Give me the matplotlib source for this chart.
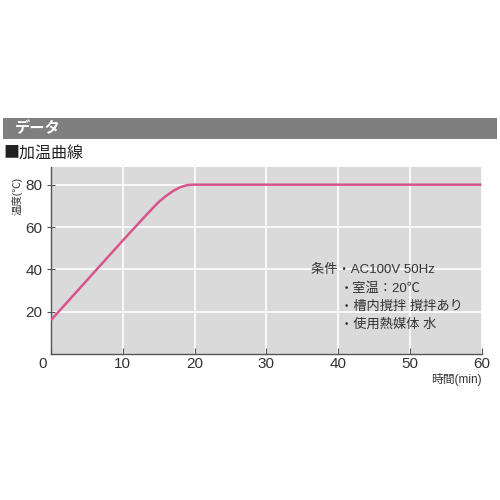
import matplotlib
matplotlib.use("Agg")
import matplotlib.pyplot as plt
import matplotlib.transforms as mtransforms
from matplotlib.patches import Rectangle

FAM = ['Liberation Sans', 'Noto Sans CJK JP', 'DejaVu Sans']
plt.rcParams['font.family'] = FAM

# data
time_min = [0, 10, 13.5, 15, 16, 17, 18, 19, 19.6, 60]
temp_c = [16, 53.6, 66.5, 71.8, 74.6, 77.0, 78.8, 79.8, 80, 80]
x_ticks = [0, 10, 20, 30, 40, 50, 60]
y_ticks = [20, 40, 60, 80]
header = "データ"
title = "■加温曲線"
ylabel = "温度(℃)"
xlabel = "時間(min)"
notes = ["条件・AC100V 50Hz", "・室温：20℃", "・槽内撹拌 撹拌あり", "・使用熱媒体 水"]

fig = plt.figure(figsize=(5, 5), dpi=100)
fig.patch.set_facecolor('white')

# header bar
fig.patches.append(Rectangle((3/500, 1-138.5/500), 494/500, 20/500,
                             transform=fig.transFigure, facecolor='#7f7f7f',
                             edgecolor='none', zorder=0))
fig.text(15/500, 1-128.5/500, header, color='white', fontsize=11, fontweight='bold',
         va='center', ha='left', style='italic', family=['Noto Sans CJK JP'])
fig.text(3/500, 1-153/500, title, color='#222222', fontsize=11.5, va='center', ha='left',
         family=['Noto Sans CJK JP'])

ax = fig.add_axes([51/500, 1-354/500, (481.5-51)/500, (354-166.7)/500])
ax.set_facecolor('#dadadb')
ax.plot(time_min, temp_c, color='#d8558b', lw=1.8, solid_capstyle='butt',
        solid_joinstyle='round', zorder=3)

ax.set_xlim(0, 60)
ax.set_ylim(0, 88.5)
ax.set_xticks(x_ticks)
ax.set_yticks(y_ticks)
ax.grid(True, color='white', lw=1.2)
ax.set_axisbelow(True)
for s in ['top', 'right']:
    ax.spines[s].set_visible(False)
for s in ['left', 'bottom']:
    ax.spines[s].set_color('#555555')
    ax.spines[s].set_linewidth(1.0)
ax.tick_params(axis='x', direction='in', length=4, color='#555555', labelsize=11,
               labelcolor='#333333', pad=2)
ax.tick_params(axis='y', direction='inout', length=6, color='#555555', labelsize=11,
               labelcolor='#333333', pad=3)

# shift the "0" x label slightly left as in the reference
lbl0 = ax.get_xticklabels()[0]
lbl0.set_transform(lbl0.get_transform() +
                   mtransforms.ScaledTranslation(-8/100, 0, fig.dpi_scale_trans))

fig.text(17/500, 1-196/500, ylabel, rotation=90, fontsize=7.5, color='#333333',
         va='center', ha='center')
fig.text(481.5/500, 1-379/500, xlabel, fontsize=8.5, color='#333333', va='center', ha='right')

ys = [270, 289, 307, 325]
xs = [311, 340, 340, 340]
for t, x, y in zip(notes, xs, ys):
    fig.text(x/500, 1-y/500, t, fontsize=9.5, color='#333333', va='center', ha='left')

fig.savefig('out.png', dpi=100, facecolor='white')
